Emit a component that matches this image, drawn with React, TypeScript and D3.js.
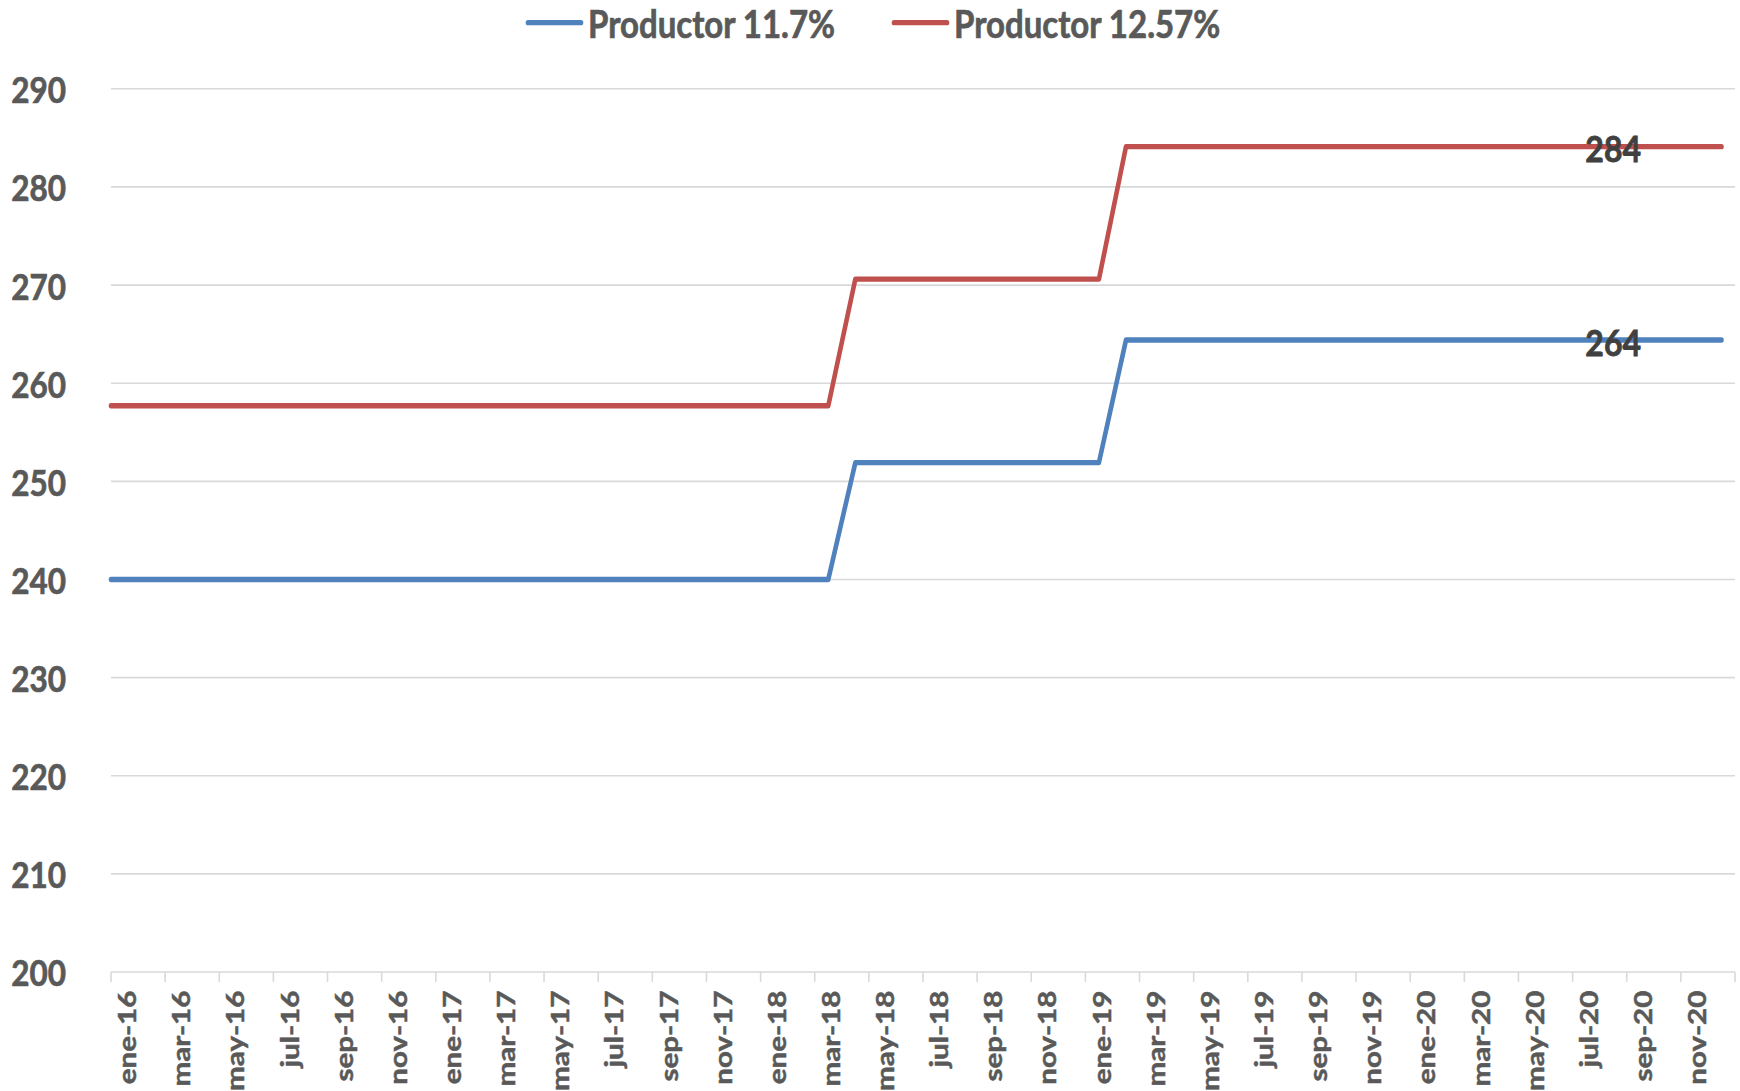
import * as d3 from "d3";
import { useEffect } from "react";

// categories: one per month, ene-16 .. dic-20
const MONTHS = ["ene", "feb", "mar", "abr", "may", "jun", "jul", "ago", "sep", "oct", "nov", "dic"];
const YEARS = ["16", "17", "18", "19", "20"];
const categories = YEARS.flatMap((y) => MONTHS.map((m) => `${m}-${y}`));

// series values (one row per year)
const productor117 = [
	240, 240, 240, 240, 240, 240, 240, 240, 240, 240, 240, 240,
	240, 240, 240, 240, 240, 240, 240, 240, 240, 240, 240, 240,
	240, 240, 240, 251.9, 251.9, 251.9, 251.9, 251.9, 251.9, 251.9, 251.9, 251.9,
	251.9, 264.4, 264.4, 264.4, 264.4, 264.4, 264.4, 264.4, 264.4, 264.4, 264.4, 264.4,
	264.4, 264.4, 264.4, 264.4, 264.4, 264.4, 264.4, 264.4, 264.4, 264.4, 264.4, 264.4,
];
const productor1257 = [
	257.7, 257.7, 257.7, 257.7, 257.7, 257.7, 257.7, 257.7, 257.7, 257.7, 257.7, 257.7,
	257.7, 257.7, 257.7, 257.7, 257.7, 257.7, 257.7, 257.7, 257.7, 257.7, 257.7, 257.7,
	257.7, 257.7, 257.7, 270.6, 270.6, 270.6, 270.6, 270.6, 270.6, 270.6, 270.6, 270.6,
	270.6, 284.1, 284.1, 284.1, 284.1, 284.1, 284.1, 284.1, 284.1, 284.1, 284.1, 284.1,
	284.1, 284.1, 284.1, 284.1, 284.1, 284.1, 284.1, 284.1, 284.1, 284.1, 284.1, 284.1,
];

const series = [
	{ name: "Productor 11.7%", values: productor117, color: "#4F81BD" },
	{ name: "Productor 12.57%", values: productor1257, color: "#C0504D" },
];

const yTicks = [200, 210, 220, 230, 240, 250, 260, 270, 280, 290];
const labelCategory = "ago-20";

// the reference is stretched vertically; draw in a shorter viewBox and stretch it
const W = 1740;
const H = 1091;
const VB_H = 940;
const FONT = "Lato, 'Open Sans', sans-serif";

export default function App() {
	useEffect(() => {
		document.body.style.margin = "0";
	}, []);

	const margin = { top: 76.5, right: 5, bottom: VB_H - 837.5, left: 111 };
	const x = d3
		.scaleBand<string>()
		.domain(categories)
		.range([margin.left, W - margin.right])
		.padding(0);
	const y = d3
		.scaleLinear()
		.domain([200, 290])
		.range([VB_H - margin.bottom, margin.top]);

	const cx = (c: string) => (x(c) ?? 0) + x.bandwidth() / 2;
	const x0 = x.range()[0];
	const axisY = y(200);

	const line = d3
		.line<[number, number]>()
		.x((d) => d[0])
		.y((d) => d[1]);

	// first segment runs from the left edge of the plot, as in the reference
	const pathFor = (values: number[]) => {
		const pts: [number, number][] = [[x0, y(values[0])]];
		values.forEach((v, i) => pts.push([cx(categories[i]), y(v)]));
		return line(pts) ?? "";
	};

	const tickCats = categories.filter((_, i) => i % 2 === 0);
	const labelIdx = categories.indexOf(labelCategory);

	// legend layout
	const legendY = 20.5;
	const legend = [
		{ lx: 528, tx: 588 },
		{ lx: 894, tx: 954 },
	];

	return (
		<svg
			width={W}
			height={H}
			viewBox={`0 0 ${W} ${VB_H}`}
			preserveAspectRatio="none"
			style={{ display: "block", background: "#fff" }}
		>
			{/* gridlines */}
			<g>
				{yTicks.map((t) => (
					<line
						key={t}
						x1={margin.left}
						x2={W - margin.right}
						y1={y(t)}
						y2={y(t)}
						stroke="#D9D9D9"
						strokeWidth={1.4}
					/>
				))}
			</g>

			{/* y labels */}
			<g
				fontFamily={FONT}
				fontWeight={700}
				fontSize={31.5}
				fill="#595959"
				stroke="#595959"
				strokeWidth={0.6}
			>
				{yTicks.map((t) => (
					<text key={t} x={66} y={y(t)} textAnchor="end" dominantBaseline="central">
						{t}
					</text>
				))}
			</g>

			{/* x axis ticks */}
			<g stroke="#D9D9D9" strokeWidth={1.6}>
				{tickCats.map((c) => (
					<line key={c} x1={x(c)} x2={x(c)} y1={axisY} y2={axisY + 8.5} />
				))}
				<line x1={W - margin.right} x2={W - margin.right} y1={axisY} y2={axisY + 8.5} />
			</g>

			{/* x labels */}
			<g
				fontFamily={FONT}
				fontWeight={700}
				fontSize={25.5}
				fill="#595959"
				stroke="#595959"
				strokeWidth={0.5}
			>
				{tickCats.map((c) => (
					<text
						key={c}
						transform={`translate(${cx(c) + 2},${axisY + 16}) rotate(-90)`}
						textAnchor="end"
						dominantBaseline="central"
					>
						{c}
					</text>
				))}
			</g>

			{/* series */}
			{series.map((s) => (
				<path
					key={s.name}
					d={pathFor(s.values)}
					fill="none"
					stroke={s.color}
					strokeWidth={4.6}
					strokeLinejoin="round"
					strokeLinecap="round"
				/>
			))}

			{/* data labels */}
			<g
				fontFamily={FONT}
				fontWeight={700}
				fontSize={32}
				fill="#404040"
				stroke="#404040"
				strokeWidth={0.7}
			>
				{series.map((s) => (
					<text
						key={s.name}
						x={cx(labelCategory)}
						y={y(s.values[labelIdx]) + 1}
						textAnchor="middle"
						dominantBaseline="central"
					>
						{Math.round(s.values[labelIdx])}
					</text>
				))}
			</g>

			{/* legend */}
			<g fontFamily={FONT} fontWeight={700} fontSize={33}>
				{series.map((s, i) => (
					<g key={s.name}>
						<line
							x1={legend[i].lx}
							x2={legend[i].lx + 53}
							y1={legendY - 1}
							y2={legendY - 1}
							stroke={s.color}
							strokeWidth={4.6}
							strokeLinecap="round"
						/>
						<text
							x={legend[i].tx}
							y={legendY}
							dominantBaseline="central"
							fill="#595959"
							stroke="#595959"
							strokeWidth={0.6}
						>
							{s.name}
						</text>
					</g>
				))}
			</g>
		</svg>
	);
}
